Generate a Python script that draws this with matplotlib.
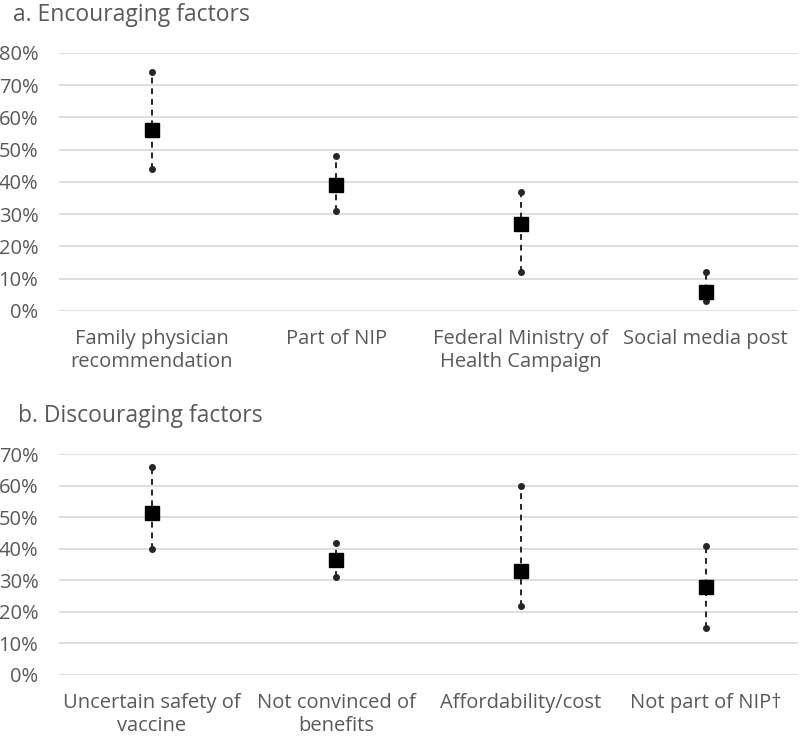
import matplotlib
matplotlib.use("Agg")
import matplotlib.pyplot as plt
from matplotlib.ticker import PercentFormatter

enc_categories = ["Family physician\nrecommendation", "Part of NIP",
                  "Federal Ministry of\nHealth Campaign", "Social media post"]
enc_mean = [56, 39, 27, 6]
enc_low = [44, 31, 12, 3]
enc_high = [74, 48, 37, 12]

dis_categories = ["Uncertain safety of\nvaccine", "Not convinced of\nbenefits",
                  "Affordability/cost", "Not part of NIP\u2020"]
dis_mean = [51.5, 36.6, 33, 28]
dis_low = [40, 31, 22, 15]
dis_high = [66, 42, 60, 41]

plt.rcParams['font.family'] = ['Open Sans', 'DejaVu Sans']
TXT = '#595959'
GRID = '#d9d9d9'
FS = 14.5

fig = plt.figure(figsize=(8.0, 7.38), dpi=100)
ax1 = fig.add_axes([0.074, 0.5786, 0.9235, 0.3496])
ax2 = fig.add_axes([0.074, 0.0854, 0.9235, 0.2990])

def draw(ax, cats, mean, low, high, ymax):
    x = list(range(len(cats)))
    for i in x:
        ax.plot([i, i], [low[i], high[i]], ls=(0, (3, 2.5)), color='#262626', lw=1.4, zorder=3)
    ax.plot(x, low, 'o', color='#262626', ms=4, ls='none', zorder=4)
    ax.plot(x, high, 'o', color='#262626', ms=4, ls='none', zorder=4)
    ax.plot(x, mean, 's', color='black', ms=9.5, ls='none', zorder=5)
    ax.set_xlim(-0.5, len(cats) - 0.5)
    ax.set_ylim(0, ymax)
    ax.set_yticks(range(0, ymax + 1, 10))
    ax.yaxis.set_major_formatter(PercentFormatter(decimals=0))
    ax.set_xticks(x)
    ax.set_xticklabels(cats, color=TXT, fontsize=FS, linespacing=1.22)
    ax.tick_params(axis='both', length=0, labelsize=FS, labelcolor=TXT)
    ax.tick_params(axis='y', pad=15)
    ax.tick_params(axis='x', pad=13)
    for s in ax.spines.values():
        s.set_visible(False)
    ax.grid(axis='y', color=GRID, lw=1.2)
    ax.set_axisbelow(True)

draw(ax1, enc_categories, enc_mean, enc_low, enc_high, 80)
draw(ax2, dis_categories, dis_mean, dis_low, dis_high, 70)

fig.text(0.016, 0.979, "a. Encouraging factors", fontsize=16.5, color=TXT, va='center', ha='left')
fig.text(0.022, 0.436, "b. Discouraging factors", fontsize=16.5, color=TXT, va='center', ha='left')

fig.savefig("out.png", dpi=100)
